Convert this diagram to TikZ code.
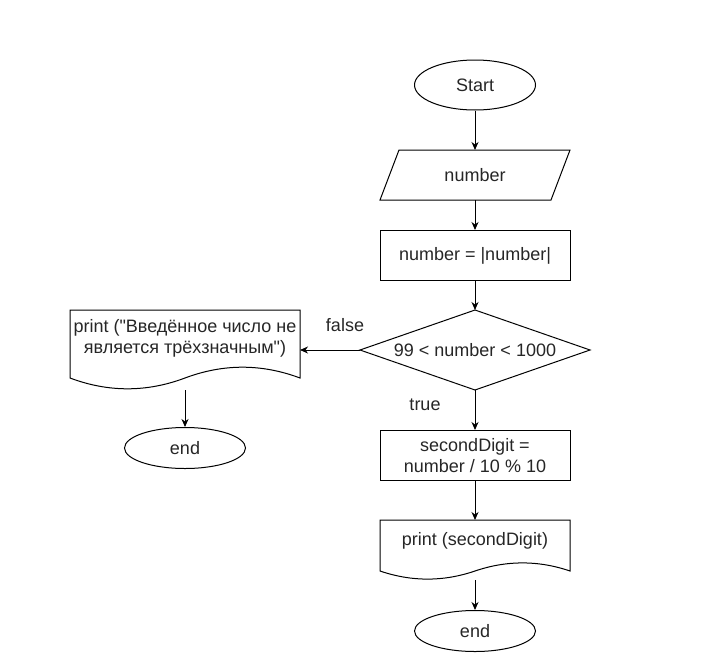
\documentclass[tikz,border=0pt]{standalone}
\usepackage{fontspec}
\setmainfont{Liberation Sans}
\newfontfamily\arialfont{Liberation Sans}
\usetikzlibrary{arrows.meta,shapes.geometric}
\begin{document}
\begin{tikzpicture}[x=1pt,y=-1pt,
  line width=1pt,
  every node/.style={font=\arialfont\fontsize{18}{21.6}\selectfont, text=black!85, align=center},
  term/.style={ellipse, draw, minimum width=121, minimum height=50, inner sep=0},
  endterm/.style={ellipse, draw, minimum width=121, minimum height=41, inner sep=0},
  procbox/.style={rectangle, draw, minimum width=190, minimum height=50, inner sep=0},
  frame/.style={rectangle, draw=none, inner sep=0, outer sep=0},
  flow/.style={-{Stealth[length=8pt,width=7pt,inset=2.5pt]}, line width=1pt}
]
\useasboundingbox (0,0) rectangle (711,661);

% start
\node[term] (start) at (475,85) {Start};

% input parallelogram
\node[frame, minimum width=190, minimum height=50] (inp) at (475,175) {number};
\draw[shift={(inp.north west)}] (19,0) -- (190,0) -- (171,50) -- (0,50) -- cycle;

% abs
\node[procbox] (absn) at (475,255.5) {number = |number|};

% decision
\node[frame, minimum width=230, minimum height=80] (dec) at (475,350) {99 < number < 1000};
\draw (dec.north) -- (dec.east) -- (dec.south) -- (dec.west) -- cycle;

% compute
\node[procbox] (calc) at (475,455.5) {secondDigit =\\ number / 10 \% 10};

% output right (document)
\node[frame, minimum width=190, minimum height=60] (docr) at (475,550) {};
\draw[shift={(docr.north west)}] (0,0) -- (190,0) -- (190,51)
  .. controls (158.33,40.2) and (126.67,40.2) .. (95,51)
  .. controls (63.33,61.8) and (31.67,61.8) .. (0,51) -- cycle;
\node (docrtext) at (475,541) {print (secondDigit)};

% end right
\node[endterm] (endr) at (475,631) {end};

% output left (document)
\node[frame, minimum width=230, minimum height=80] (docl) at (185,350) {};
\draw[shift={(docl.north west)}] (0,0) -- (230,0) -- (230,68)
  .. controls (191.67,53.6) and (153.33,53.6) .. (115,68)
  .. controls (76.67,82.4) and (38.33,82.4) .. (0,68) -- cycle;
\node (doclText) at (185,338.5) {print ("Введённое число не\\является трёхзначным")};

% end left
\node[endterm] (endl) at (185,448) {end};

% labels
\node (lblfalse) at (345,325) {false};
\node (lbltrue) at (425,405) {true};

% connectors
\draw[flow] (start) -- (inp);
\draw[flow] (inp) -- (absn);
\draw[flow] (absn) -- (dec);
\draw[flow] (dec.south) -- (calc);
\draw[flow] (calc) -- (docr);
\draw[flow] (docr) -- (endr);
\draw[flow] (dec.west) -- (docl.east);
\draw[flow] (docl) -- (endl);
\end{tikzpicture}
\end{document}
